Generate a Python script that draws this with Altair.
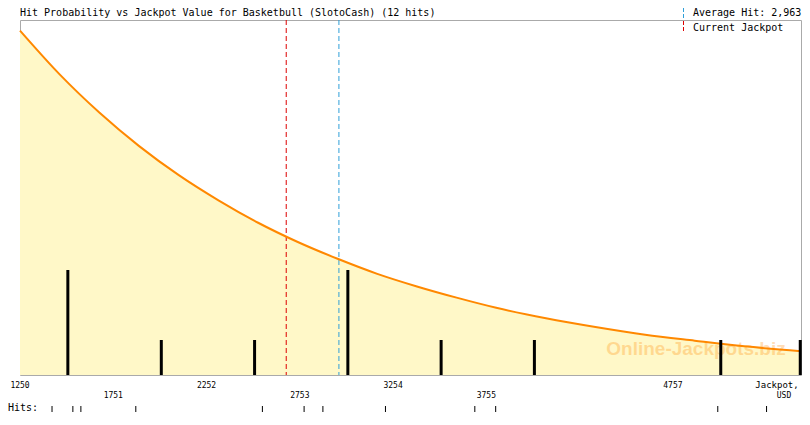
import altair as alt
import pandas as pd

# ---- data ----
title_text = "Hit Probability vs Jackpot Value for Basketbull (SlotoCash) (12 hits)"
curve_x = [1250, 1463, 1676, 1890, 2103, 2316, 2529, 2742, 2956, 3169,
           3382, 3595, 3808, 4075, 4341, 4608, 4874, 5141, 5445]
curve_y = [9.84, 8.59, 7.50, 6.54, 5.71, 4.99, 4.35, 3.80, 3.32, 2.89,
           2.53, 2.21, 1.92, 1.62, 1.37, 1.15, 0.98, 0.82, 0.68]
bar_x = [1507, 2009, 2510, 3011, 3512, 4013, 5014, 5441]
bar_count = [3, 1, 1, 3, 1, 1, 1, 1]
hits = [1422, 1534, 1577, 1872, 2552, 2776, 2877, 3213, 3693, 3805, 4998, 5260]
tick_values = [1250, 1751, 2252, 2753, 3254, 3755, 4256, 4757, 5258]
row1_values = [1250, 2252, 3254, 4757]
row2_values = [1751, 2753, 3755]
average_hit = 2963
current_jackpot = 2680
x_domain = [1250, 5445]
y_domain = [0, 10.143]

# ---- layout ----
W, H = 781, 355
FONT = "DejaVu Sans Mono"
RED = "#dd0000"
BLUE = "#2f9fd8"
xscale = alt.Scale(domain=x_domain, nice=False, zero=False)
yscale = alt.Scale(domain=y_domain, nice=False, zero=True)

curve_df = pd.DataFrame({"x": curve_x, "y": curve_y})
bars_df = pd.DataFrame({"x": bar_x, "c": bar_count})
hits_df = pd.DataFrame({"x": hits})


def X(field="x"):
    return alt.X(f"{field}:Q", scale=xscale, axis=None)


area = alt.Chart(curve_df).mark_area(color="#fff8c8", interpolate="monotone").encode(
    x=alt.X("x:Q", scale=xscale,
            axis=alt.Axis(values=tick_values, labels=False, ticks=True, tickSize=5,
                          tickColor="#aaaaaa", domainColor="#aaaaaa", grid=False,
                          title=None)),
    y=alt.Y("y:Q", scale=yscale, axis=None),
)

watermark = alt.Chart(pd.DataFrame({"t": ["Online-Jackpots.biz"]})).mark_text(
    font="Liberation Sans", fontWeight="bold", fontSize=19, color="#ff8800",
    opacity=0.28, align="center", baseline="alphabetic"
).encode(x=alt.value(676), y=alt.value(335), text="t:N")

cur_line = alt.Chart(pd.DataFrame({"x": [current_jackpot]})).mark_rule(
    color=RED, strokeWidth=1, strokeDash=[5, 3]
).encode(x=X(), y=alt.value(0), y2=alt.value(H))

avg_line = alt.Chart(pd.DataFrame({"x": [average_hit]})).mark_rule(
    color=BLUE, strokeWidth=1, strokeDash=[5, 3]
).encode(x=X(), y=alt.value(0), y2=alt.value(H))

line = alt.Chart(curve_df).mark_line(color="#ff8800", strokeWidth=2, interpolate="monotone").encode(
    x=X(), y=alt.Y("y:Q", scale=yscale, axis=None)
)

bars = alt.Chart(bars_df).mark_rule(color="black", strokeWidth=3).encode(
    x=X(), y=alt.Y("c:Q", scale=yscale, axis=None), y2=alt.datum(0)
)

hit_ticks = alt.Chart(hits_df).mark_rule(color="black", strokeWidth=1).encode(
    x=X(), y=alt.value(386), y2=alt.value(392)
)

row1 = alt.Chart(pd.DataFrame({"x": row1_values, "t": [str(v) for v in row1_values]})).mark_text(
    font=FONT, fontSize=8, color="black", align="center", baseline="alphabetic"
).encode(x=X(), y=alt.value(368), text="t:N")

row2 = alt.Chart(pd.DataFrame({"x": row2_values, "t": [str(v) for v in row2_values]})).mark_text(
    font=FONT, fontSize=8, color="black", align="center", baseline="alphabetic"
).encode(x=X(), y=alt.value(378), text="t:N")


def label(text, x, y, size=10, align="left"):
    return alt.Chart(pd.DataFrame({"t": [text]})).mark_text(
        font=FONT, fontSize=size, color="black", align=align, baseline="alphabetic"
    ).encode(x=alt.value(x), y=alt.value(y), text="t:N")


jack = label("Jackpot,", 757, 368, size=9, align="center")
usd = label("USD", 764, 378, size=8, align="center")
hits_lbl = label("Hits:", -12, 391, size=10)
title = label(title_text, 0, -4, size=10)
avg_lbl = label(f"Average Hit: {average_hit:,}", 673, -4, size=10)
cur_lbl = label("Current Jackpot", 673, 11, size=10)

avg_mark = alt.Chart(pd.DataFrame({"a": [0]})).mark_rule(
    color=BLUE, strokeWidth=1, strokeDash=[4, 2]
).encode(x=alt.value(663.5), y=alt.value(-12), y2=alt.value(-1))
cur_mark = alt.Chart(pd.DataFrame({"a": [0]})).mark_rule(
    color=RED, strokeWidth=1, strokeDash=[4, 2]
).encode(x=alt.value(663.5), y=alt.value(1), y2=alt.value(13))

chart = alt.layer(
    area, watermark, cur_line, avg_line, line, bars, hit_ticks,
    row1, row2, jack, usd, hits_lbl, title, avg_lbl, cur_lbl, avg_mark, cur_mark
).properties(
    width=W, height=H,
    padding={"left": 12, "top": 12, "right": 1, "bottom": 37},
    autosize=alt.AutoSizeParams(type="none"),
    background="white",
).configure_view(stroke="#aaaaaa", strokeWidth=1)

chart.save("out.html", embed_options={"renderer": "svg", "actions": False})
